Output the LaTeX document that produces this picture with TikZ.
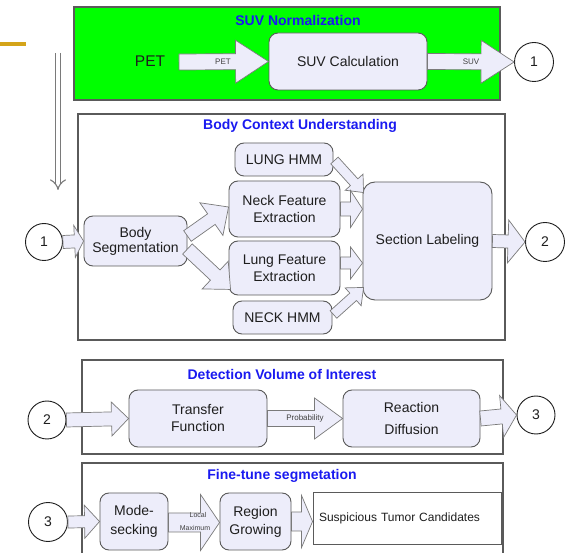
\documentclass[tikz,border=0pt]{standalone}
\usepackage{fontspec}
\setmainfont{Liberation Sans}
\usetikzlibrary{calc,arrows.meta}
\definecolor{lav}{HTML}{EDEDFA}
\definecolor{edge}{HTML}{5A5A5A}
\definecolor{arredge}{HTML}{7A7A7A}
\definecolor{ttl}{HTML}{1A1AF0}
\definecolor{gold}{HTML}{D4A419}
\definecolor{txt}{HTML}{1E1E1E}
\definecolor{vivid}{HTML}{00FF00}
\tikzset{
 panel/.style={draw=edge, line width=1.2pt, inner sep=0},
 ptitle/.style={text=ttl, font=\fontsize{14}{16}\selectfont\bfseries, inner sep=0},
 rbox/.style={draw=edge, fill=lav, rounded corners=9pt, line width=0.9pt, text=txt, align=center, inner sep=0, font=\fontsize{14}{17}\selectfont},
 numc/.style={draw=txt, fill=white, circle, inner sep=0, line width=0.9pt, text=txt, font=\fontsize{14}{17}\selectfont},
 barrow/.style={draw=arredge, fill=lav, line width=0.7pt, line join=miter},
 tinylbl/.style={text=txt!85, font=\fontsize{8}{9}\selectfont, inner sep=0},
}
\newcommand\blockarr[6][]{%
 \draw[barrow,#1] ($(#2)!#4!90:(#3)$) -- ($(#3)!#6!(#2)!#4!-90:(#2)$) -- ($(#3)!#6!(#2)!#5!-90:(#2)$) -- (#3) -- ($(#3)!#6!(#2)!#5!90:(#2)$) -- ($(#3)!#6!(#2)!#4!90:(#2)$) -- ($(#2)!#4!-90:(#3)$) -- cycle;}
\begin{document}
\begin{tikzpicture}[x=1pt,y=-1pt]
\useasboundingbox (0,0) rectangle (571,553);
\fill[white] (0,0) rectangle (571,553);
% gold rule
\coordinate (g1) at (0,44); \coordinate (g2) at (26,44);
\draw[gold, line width=4pt] (g1) -- (g2);
% panels
\node[panel, fill=vivid, minimum width=426pt, minimum height=93pt] (p1) at (287,53.5) {};
\node[panel, fill=white, minimum width=427pt, minimum height=226pt] (p2) at (291.5,227) {};
\node[panel, fill=white, minimum width=421pt, minimum height=94pt] (p3) at (292.5,407) {};
\node[panel, fill=white, minimum width=421pt, minimum height=110pt] (p4) at (292.5,518) {};
% titles
\node[ptitle] (t1) at (298,20) {SUV Normalization};
\node[ptitle] (t2) at (300,126) {Body Context Understanding};
\node[ptitle] (t3) at (282,374) {Detection Volume of Interest};
\node[ptitle] (t4) at (282,476) {Fine-tune segmetation};
% vertical double arrow
\coordinate (vs) at (58,53); \coordinate (ve) at (58,190);
\draw[draw=arredge, double=white, double distance=4.5pt, line width=1.1pt, -{Implies}] (vs) -- (ve);
% ---- SUV normalization
\node[font=\fontsize{15.5}{18}\selectfont, text=txt, inner sep=0] (pet) at (150,61) {PET};
\node[rbox, minimum width=158pt, minimum height=57pt] (suv) at (348,61.5) {SUV Calculation};
\node[numc, minimum size=39pt] (c1a) at (534,62) {1};
\coordinate (petS) at (179,62);
\blockarr{petS}{suv.west}{8pt}{21.5pt}{33pt}
\blockarr{suv.east}{c1a.west}{8pt}{21.5pt}{33pt}
\node[tinylbl] (lp) at (223,62) {PET};
\node[tinylbl] (ls) at (471,62) {SUV};
% ---- Body context
\node[numc, minimum size=37pt] (c1b) at (44,242) {1};
\node[rbox, minimum width=103pt, minimum height=50pt, font=\fontsize{14}{15}\selectfont] (bs) at (135.5,241) {Body\\Segmentation};
\node[rbox, minimum width=98pt, minimum height=33pt] (lh) at (284,159.5) {LUNG HMM};
\node[rbox, minimum width=111pt, minimum height=56pt] (nf) at (284.5,209) {Neck Feature\\Extraction};
\node[rbox, minimum width=111pt, minimum height=54pt] (lf) at (284.5,268) {Lung Feature\\Extraction};
\node[rbox, minimum width=99pt, minimum height=33pt] (nh) at (282.5,317.5) {NECK HMM};
\node[rbox, minimum width=129pt, minimum height=118pt, rounded corners=12pt] (sl) at (427.5,241) {Section Labeling};
\node[numc, minimum size=39pt] (c2a) at (545,242) {2};
\blockarr{c1b.east}{bs.west}{6.5pt}{16pt}{9pt}
\coordinate (a4s) at ($(bs.east)+(0,-5)$);
\coordinate (a4e) at ($(nf.west)+(0,-2)$);
\blockarr{a4s}{a4e}{6.5pt}{20pt}{21pt}
\coordinate (a5s) at ($(bs.east)+(0,8)$);
\coordinate (a5e) at ($(lf.south west)+(2,-6)$);
\blockarr{a5s}{a5e}{7pt}{19pt}{21pt}
\coordinate (a6s) at ($(lh.east)+(1,1)$);
\coordinate (a6e) at ($(sl.north west)+(1,11)$);
\blockarr{a6s}{a6e}{5pt}{12pt}{14pt}
\coordinate (a7s) at (nf.east);
\coordinate (a7e) at (sl.west |- a7s);
\blockarr{a7s}{a7e}{7pt}{18.5pt}{12pt}
\coordinate (a8s) at ($(lf.east)+(0,-5)$);
\coordinate (a8e) at (sl.west |- a8s);
\blockarr{a8s}{a8e}{6pt}{16pt}{12pt}
\coordinate (a9s) at ($(nh.east)+(1,-3)$);
\coordinate (a9e) at ($(sl.south west)+(1,-13)$);
\blockarr{a9s}{a9e}{5pt}{12pt}{14pt}
\blockarr{sl.east}{c2a.west}{6.5pt}{21.5pt}{17pt}
% ---- Detection VOI
\node[numc, minimum size=38pt] (c2b) at (47,420) {2};
\node[rbox, minimum width=138pt, minimum height=57pt] (tf) at (198,418.5) {Transfer\\Function};
\node[rbox, minimum width=137pt, minimum height=57pt, font=\fontsize{14}{22}\selectfont] (rd) at (411.5,418.5) {Reaction\\Diffusion};
\node[numc, minimum size=38pt] (c3a) at (536,415) {3};
\blockarr{c2b.east}{tf.west}{7pt}{17pt}{17pt}
\blockarr{tf.east}{rd.west}{8pt}{20.5pt}{28pt}
\node[tinylbl] (lprob) at (305,418) {Probability};
\blockarr{rd.east}{c3a.west}{7.5pt}{21pt}{15pt}
% ---- Fine-tune
\node[numc, minimum size=39pt] (c3b) at (48,522) {3};
\node[rbox, minimum width=68pt, minimum height=57pt, font=\fontsize{14}{19}\selectfont] (ms) at (134,521.5) {Mode-\\secking};
\node[rbox, minimum width=71pt, minimum height=57pt, font=\fontsize{14}{18}\selectfont] (rg) at (255.5,521.5) {Region\\Growing};
\node[draw=edge, fill=white, line width=0.9pt, minimum width=188pt, minimum height=52pt, inner sep=0, text width=176pt, align=left, text=txt, font=\fontsize{12}{14}\selectfont] (stc) at (407,518) {Suspicious Tumor Candidates};
\blockarr{c3b.east}{ms.west}{6pt}{16.5pt}{15pt}
\coordinate (a15s) at ($(ms.east)+(0,1)$);
\coordinate (a15e) at (rg.west |- a15s);
\blockarr{a15s}{a15e}{9.5pt}{28pt}{19pt}
\node[tinylbl, font=\fontsize{7}{8}\selectfont] (lloc) at (198,515) {Local};
\node[tinylbl, font=\fontsize{7}{8}\selectfont] (lmax) at (195,528) {Maximum};
\coordinate (a16e) at (stc.west |- rg.east);
\blockarr{rg.east}{a16e}{9.5pt}{26pt}{11pt}
\end{tikzpicture}
\end{document}
